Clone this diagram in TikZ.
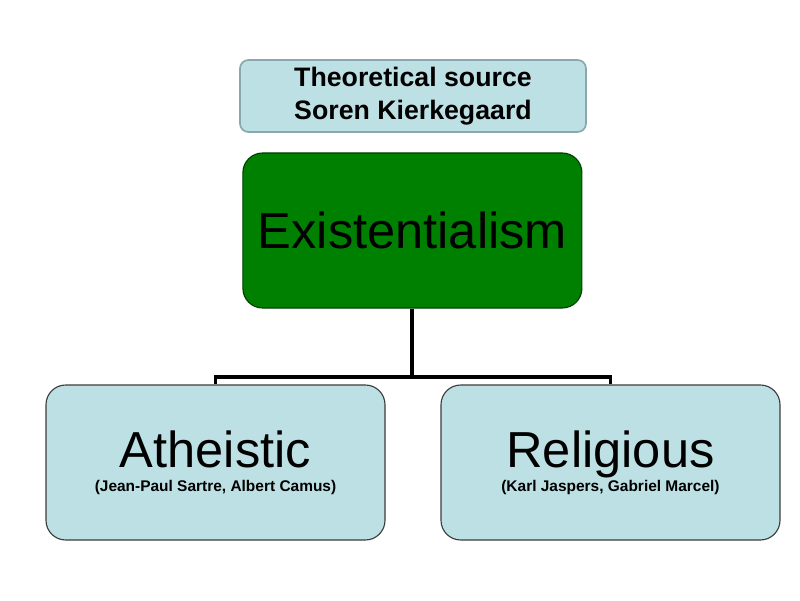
\documentclass[tikz,border=0pt]{standalone}
\usepackage{fontspec}
\setmainfont{Liberation Sans}
\usepackage{tikz}
\usetikzlibrary{positioning}

\definecolor{paleblue}{RGB}{189,224,228}
\definecolor{paleedge}{RGB}{138,168,172}
\definecolor{darkgreen}{RGB}{0,128,0}
\definecolor{greenedge}{RGB}{0,64,0}
\definecolor{boxedge}{RGB}{60,60,60}

\begin{document}
\begin{tikzpicture}[
    source/.style={rectangle, rounded corners=6pt, draw=paleedge, line width=1.2pt, fill=paleblue,
      minimum width=8.65cm, minimum height=1.8cm, align=center, font=\fontsize{19}{23.5}\selectfont\bfseries},
    root/.style={rectangle, rounded corners=14pt, draw=greenedge, line width=0.8pt, fill=darkgreen,
      minimum width=8.475cm, minimum height=3.875cm, font=\fontsize{36}{40}\selectfont},
    branch/.style={rectangle, rounded corners=14pt, draw=boxedge, line width=0.8pt, fill=paleblue,
      minimum width=8.475cm, minimum height=3.875cm, align=center, font=\fontsize{11}{17}\selectfont\bfseries},
    link/.style={line width=2.8pt}
  ]
    \useasboundingbox (0,0) rectangle (20,15);

    \node[source] (src) at (10.325,12.6) {Theoretical source\\Soren Kierkegaard};
    \node[root] (exi) at (10.31,9.2375) {Existentialism};
    \node[branch] (ath) at (5.3875,3.4375) {{\fontsize{36}{17}\selectfont\mdseries Atheistic}\\
      (Jean-Paul Sartre, Albert Camus)};
    \node[branch] (rel) at (15.2625,3.4375) {{\fontsize{36}{17}\selectfont\mdseries Religious}\\
      (Karl Jaspers, Gabriel Marcel)};

    \coordinate (split) at (10.31,5.575);
    \draw[link] (exi) -- (split);
    \draw[link] (split) -| (ath);
    \draw[link] (split) -| (rel);
  \end{tikzpicture}
\end{document}
